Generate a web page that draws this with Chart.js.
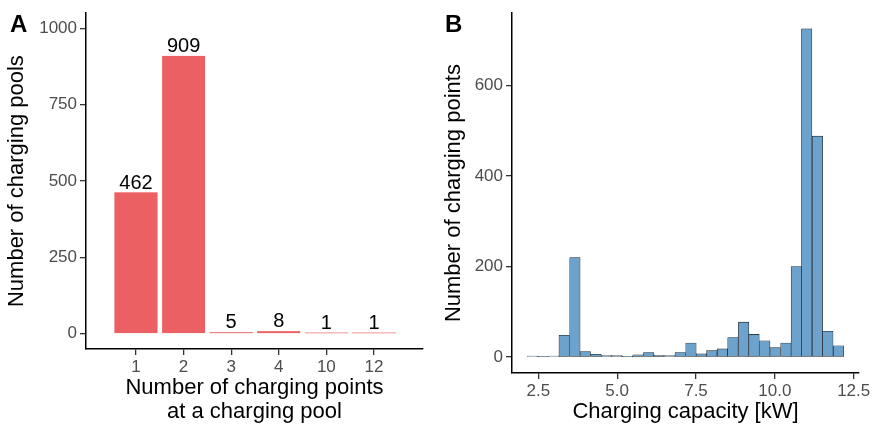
<!DOCTYPE html>
<html>
<head>
<meta charset="utf-8">
<script src="https://cdn.jsdelivr.net/npm/chart.js@4.4.1/dist/chart.umd.min.js"></script>
<style>
  html, body { margin: 0; padding: 0; background: #fff; }
  body { width: 873px; height: 424px; position: relative; overflow: hidden; font-family: "Liberation Sans", Arial, sans-serif; }
  .panel { position: absolute; top: 0; height: 424px; }
  .tag { position: absolute; font-weight: bold; font-size: 24px; line-height: 24px; color: #000; }
</style>
</head>
<body>
<div class="panel" style="left:0;width:436px"><canvas id="poolChart" width="436" height="424"></canvas></div>
<div class="panel" style="left:436px;width:437px"><canvas id="capChart" width="437" height="424"></canvas></div>
<div class="tag" style="left:10px;top:12px">A</div>
<div class="tag" style="left:445px;top:12px">B</div>
<script>
// Panel A: charging pools by number of charging points
const poolSizes = ["1", "2", "3", "4", "10", "12"];
const poolCounts = [462, 909, 5, 8, 1, 1];
const poolTicks = [0, 250, 500, 750, 1000];

// Panel B: histogram of charging capacity (30 bins)
const binCenters = [2.32, 2.65, 2.99, 3.32, 3.66, 3.99, 4.33, 4.66, 4.99, 5.33,
                    5.66, 6.00, 6.33, 6.67, 7.00, 7.34, 7.67, 8.00, 8.34, 8.67,
                    9.01, 9.34, 9.68, 10.01, 10.35, 10.68, 11.01, 11.35, 11.68, 12.02];
const binCounts = [2, 1, 2, 48, 220, 12, 6, 3, 3, 1,
                   5, 10, 4, 3, 10, 31, 7, 14, 18, 43,
                   77, 50, 36, 21, 31, 200, 725, 488, 57, 25];
const capYTicks = [0, 200, 400, 600];
const capXTicks = [2.5, 5.0, 7.5, 10.0, 12.5];

Chart.defaults.font.family = "'Liberation Sans', Arial, sans-serif";

const tickGrid = { drawOnChartArea: false, drawTicks: true, tickLength: 6, color: "#333333", lineWidth: 1.3, offset: false };
const axisLine = { color: "#000000", width: 1.5 };

// draw counts above bars in panel A
const valueLabels = {
    id: "valueLabels",
    afterDatasetsDraw(chart) {
        const ctx = chart.ctx;
        const meta = chart.getDatasetMeta(0);
        ctx.save();
        ctx.font = "20px 'Liberation Sans', Arial, sans-serif";
        ctx.fillStyle = "#000";
        ctx.textAlign = "center";
        ctx.textBaseline = "alphabetic";
        meta.data.forEach((bar, i) => {
            ctx.fillText(String(poolCounts[i]), bar.x, bar.y - 4);
        });
        ctx.restore();
    }
};

new Chart(document.getElementById("poolChart"), {
    type: "bar",
    data: {
        datasets: [{
            data: poolCounts.map((v, i) => ({ x: i, y: v })),
            backgroundColor: "#EB6063",
            borderColor: "#F8C4C5",
            borderWidth: 0.5,
            borderSkipped: false,
            inflateAmount: 0.5,
            minBarLength: 1,
            categoryPercentage: 1,
            barPercentage: 0.9
        }]
    },
    options: {
        responsive: false,
        animation: false,
        layout: { padding: { top: 13, right: 13, left: 0, bottom: 0 } },
        plugins: { legend: { display: false }, tooltip: { enabled: false } },
        scales: {
            x: {
                type: "linear",
                min: -1.05,
                max: 6.03,
                offset: false,
                afterBuildTicks: s => { s.ticks = poolSizes.map((_, i) => ({ value: i })); },
                afterFit: s => { s.height = 75; },
                grid: tickGrid,
                border: axisLine,
                ticks: { color: "#4D4D4D", font: { size: 17 }, padding: 2, callback: v => poolSizes[v] },
                title: {
                    display: true,
                    text: ["Number of charging points", "at a charging pool"],
                    color: "#000",
                    font: { size: 22, lineHeight: 24 / 22 },
                    padding: 0
                }
            },
            y: {
                min: -50,
                max: 1049,
                afterBuildTicks: s => { s.ticks = poolTicks.map(v => ({ value: v })); },
                afterFit: s => { s.width = 86; },
                grid: tickGrid,
                border: axisLine,
                ticks: { color: "#4D4D4D", font: { size: 17 }, padding: 3, callback: v => String(v) },
                title: {
                    display: true,
                    text: "Number of charging pools",
                    color: "#000",
                    font: { size: 22, lineHeight: 1.2 },
                    padding: { top: 4, bottom: 0 }
                }
            }
        }
    },
    plugins: [valueLabels]
});

new Chart(document.getElementById("capChart"), {
    type: "bar",
    data: {
        datasets: [{
            data: binCenters.map((c, i) => ({ x: c, y: binCounts[i] })),
            backgroundColor: "#6DA2CC",
            borderColor: "#1A1A1A",
            borderWidth: 0.6,
            borderSkipped: false,
            categoryPercentage: 1,
            barPercentage: 1
        }]
    },
    options: {
        responsive: false,
        animation: false,
        layout: { padding: { top: 13, right: 14, left: 0, bottom: 0 } },
        plugins: { legend: { display: false }, tooltip: { enabled: false } },
        scales: {
            x: {
                type: "linear",
                min: 1.666,
                max: 12.668,
                offset: false,
                afterBuildTicks: s => { s.ticks = capXTicks.map(v => ({ value: v })); },
                afterFit: s => { s.height = 51; },
                grid: tickGrid,
                border: axisLine,
                ticks: { color: "#4D4D4D", font: { size: 17 }, padding: 2, callback: v => v.toFixed(1) },
                title: {
                    display: true,
                    text: "Charging capacity [kW]",
                    color: "#000",
                    font: { size: 22, lineHeight: 24 / 22 },
                    padding: 0
                }
            },
            y: {
                min: -35.3,
                max: 759.7,
                afterBuildTicks: s => { s.ticks = capYTicks.map(v => ({ value: v })); },
                afterFit: s => { s.width = 76; },
                grid: tickGrid,
                border: axisLine,
                ticks: { color: "#4D4D4D", font: { size: 17 }, padding: 3, callback: v => String(v) },
                title: {
                    display: true,
                    text: "Number of charging points",
                    color: "#000",
                    font: { size: 22, lineHeight: 1.2 },
                    padding: { top: 5, bottom: 0 }
                }
            }
        }
    }
});
</script>
</body>
</html>
